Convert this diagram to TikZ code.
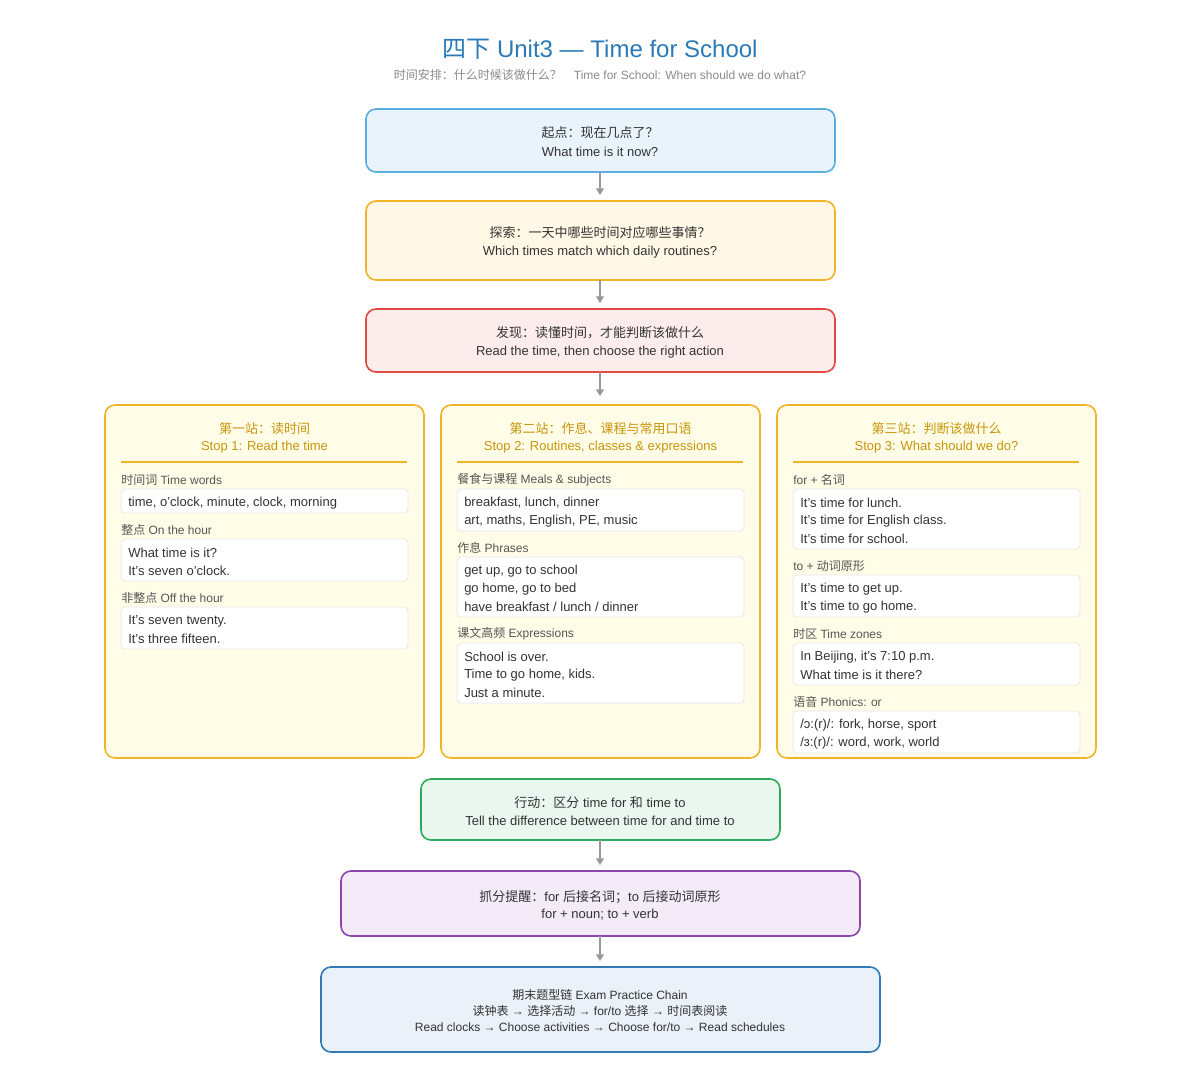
\documentclass[tikz,border=0pt]{standalone}
\usepackage{fontspec}
\setmainfont{Liberation Sans}
\newfontfamily\cjk{Noto Sans CJK SC}
\newcommand{\zh}[1]{{\cjk #1}}
\usetikzlibrary{arrows.meta}
\definecolor{ttl}{HTML}{2A7AB8}
\definecolor{sub}{HTML}{8A8A8A}
\definecolor{txt}{HTML}{333333}
\definecolor{lbl}{HTML}{555555}
\definecolor{hdr}{HTML}{C8950A}
\definecolor{b1f}{HTML}{E8F3FC}\definecolor{b1d}{HTML}{5AAEE0}
\definecolor{b2f}{HTML}{FFF8E6}\definecolor{b2d}{HTML}{F0B429}
\definecolor{b3f}{HTML}{FDECEC}\definecolor{b3d}{HTML}{E04A3F}
\definecolor{cf}{HTML}{FFFDE7}
\definecolor{gf}{HTML}{E9F7EE}\definecolor{gd}{HTML}{2EAA5C}
\definecolor{pf}{HTML}{F3EBF7}\definecolor{pd}{HTML}{8E44AD}
\definecolor{bf}{HTML}{EAF1F8}\definecolor{bd}{HTML}{2E7BB5}
\definecolor{arr}{HTML}{999999}
\definecolor{inb}{HTML}{E6E6E6}
\tikzset{
  x=0.75pt,y=-0.75pt,
  mainbox/.style={rounded corners=7.5pt,line width=1.2pt},
  inbox/.style={rounded corners=3pt,draw=inb,fill=white,line width=0.6pt},
  body/.style={font=\fontsize{9.75}{12}\selectfont,text=txt,inner sep=0pt},
  lab/.style={font=\fontsize{9}{11}\selectfont,text=lbl,inner sep=0pt,anchor=west},
  itm/.style={font=\fontsize{9.75}{12}\selectfont,text=txt,inner sep=0pt,anchor=west},
  hd/.style={font=\fontsize{9.75}{12}\selectfont,text=hdr,inner sep=0pt},
  conn/.style={draw=arr,line width=1pt,-{Triangle[length=5pt,width=6pt]}},
}
\begin{document}
\begin{tikzpicture}
\useasboundingbox (0,0) rectangle (1200,1082);
\fill[white] (0,0) rectangle (1200,1082);
\node[font=\fontsize{18}{22}\selectfont,text=ttl,inner sep=0pt] (title) at (600,49) {\zh{四下} Unit3 — Time for School};
\node[font=\fontsize{9}{11}\selectfont,text=sub,inner sep=0pt] (subt) at (600,75) {\zh{时间安排：什么时候该做什么？}\quad Time for School: When should we do what?};
% top boxes
\draw[mainbox,fill=b1f,draw=b1d] (366,109) rectangle (835,172);
\coordinate (b1b) at (600,172);
\node[body] at (600,133) {\zh{起点：现在几点了？}};
\node[body] at (600,152) {What time is it now?};
\coordinate (b2t) at (600,195);
\draw[conn] (b1b) -- (b2t);
\draw[mainbox,fill=b2f,draw=b2d] (366,201) rectangle (835,280);
\node[body] at (600,233) {\zh{探索：一天中哪些时间对应哪些事情？}};
\node[body] at (600,252) {Which times match which daily routines?};
\coordinate (b2b) at (600,280);\coordinate (b3t) at (600,303);
\draw[conn] (b2b) -- (b3t);
\draw[mainbox,fill=b3f,draw=b3d] (366,309) rectangle (835,372);
\node[body] at (600,333) {\zh{发现：读懂时间，才能判断该做什么}};
\node[body] at (600,352) {Read the time, then choose the right action};
\coordinate (b3b) at (600,372);\coordinate (ct) at (600,396);
\draw[conn] (b3b) -- (ct);
% columns
\foreach \xa/\xb in {105/424,441/760,777/1096}{
  \draw[mainbox,fill=cf,draw=b2d] (\xa,405) rectangle (\xb,758);
  \draw[draw=b2d,line width=0.8pt] (\xa+16,462) -- (\xb-17,462);
}
% col1
\node[hd] at (264.5,429) {\zh{第一站：读时间}};
\node[hd] at (264.5,447) {Stop 1: Read the time};
\node[lab] at (121,480) {\zh{时间词} Time words};
\draw[inbox] (121,489) rectangle (408,513);
\node[itm] at (128,503) {time, o'clock, minute, clock, morning};
\node[lab] at (121,530) {\zh{整点} On the hour};
\draw[inbox] (121,539) rectangle (408,581);
\node[itm] at (128,553) {What time is it?};
\node[itm] at (128,571) {It's seven o'clock.};
\node[lab] at (121,598) {\zh{非整点} Off the hour};
\draw[inbox] (121,607) rectangle (408,649);
\node[itm] at (128,621) {It's seven twenty.};
\node[itm] at (128,639) {It's three fifteen.};
% col2
\node[hd] at (600.5,429) {\zh{第二站：作息、课程与常用口语}};
\node[hd] at (600.5,447) {Stop 2: Routines, classes \& expressions};
\node[lab] at (457,480) {\zh{餐食与课程} Meals \& subjects};
\draw[inbox] (457,489) rectangle (744,531);
\node[itm] at (464,503) {breakfast, lunch, dinner};
\node[itm] at (464,521) {art, maths, English, PE, music};
\node[lab] at (457,548) {\zh{作息} Phrases};
\draw[inbox] (457,557) rectangle (744,617);
\node[itm] at (464,571) {get up, go to school};
\node[itm] at (464,589) {go home, go to bed};
\node[itm] at (464,607) {have breakfast / lunch / dinner};
\node[lab] at (457,634) {\zh{课文高频} Expressions};
\draw[inbox] (457,643) rectangle (744,703);
\node[itm] at (464,657) {School is over.};
\node[itm] at (464,675) {Time to go home, kids.};
\node[itm] at (464,693) {Just a minute.};
% col3
\node[hd] at (936.5,429) {\zh{第三站：判断该做什么}};
\node[hd] at (936.5,447) {Stop 3: What should we do?};
\node[lab] at (793,480) {for + \zh{名词}};
\draw[inbox] (793,489) rectangle (1080,549);
\node[itm] at (800,503) {It's time for lunch.};
\node[itm] at (800,521) {It's time for English class.};
\node[itm] at (800,539) {It's time for school.};
\node[lab] at (793,566) {to + \zh{动词原形}};
\draw[inbox] (793,575) rectangle (1080,617);
\node[itm] at (800,589) {It's time to get up.};
\node[itm] at (800,607) {It's time to go home.};
\node[lab] at (793,634) {\zh{时区} Time zones};
\draw[inbox] (793,643) rectangle (1080,685);
\node[itm] at (800,657) {In Beijing, it's 7:10 p.m.};
\node[itm] at (800,675) {What time is it there?};
\node[lab] at (793,702) {\zh{语音} Phonics: or};
\draw[inbox] (793,711) rectangle (1080,753);
\node[itm] at (800,725) {/ɔ:(r)/: fork, horse, sport};
\node[itm] at (800,743) {/ɜ:(r)/: word, work, world};
% bottom boxes
\draw[mainbox,fill=gf,draw=gd] (421,779) rectangle (780,840);
\node[body] at (600,803) {\zh{行动：区分} time for \zh{和} time to};
\node[body] at (600,821) {Tell the difference between time for and time to};
\coordinate (gb) at (600,840);\coordinate (pt) at (600,865);
\draw[conn] (gb) -- (pt);
\draw[mainbox,fill=pf,draw=pd] (341,871) rectangle (860,936);
\node[body] at (600,897) {\zh{抓分提醒：}for \zh{后接名词；}to \zh{后接动词原形}};
\node[body] at (600,915) {for + noun; to + verb};
\coordinate (pb) at (600,936);\coordinate (bt) at (600,961);
\draw[conn] (pb) -- (bt);
\draw[mainbox,fill=bf,draw=bd] (321,967) rectangle (880,1052);
\node[body,font=\fontsize{9}{11}\selectfont] at (600,995) {\zh{期末题型链} Exam Practice Chain};
\node[body,font=\fontsize{9}{11}\selectfont] at (600,1011) {\zh{读钟表} → \zh{选择活动} → for/to \zh{选择} → \zh{时间表阅读}};
\node[body,font=\fontsize{9}{11}\selectfont] at (600,1027) {Read clocks → Choose activities → Choose for/to → Read schedules};
\end{tikzpicture}
\end{document}
